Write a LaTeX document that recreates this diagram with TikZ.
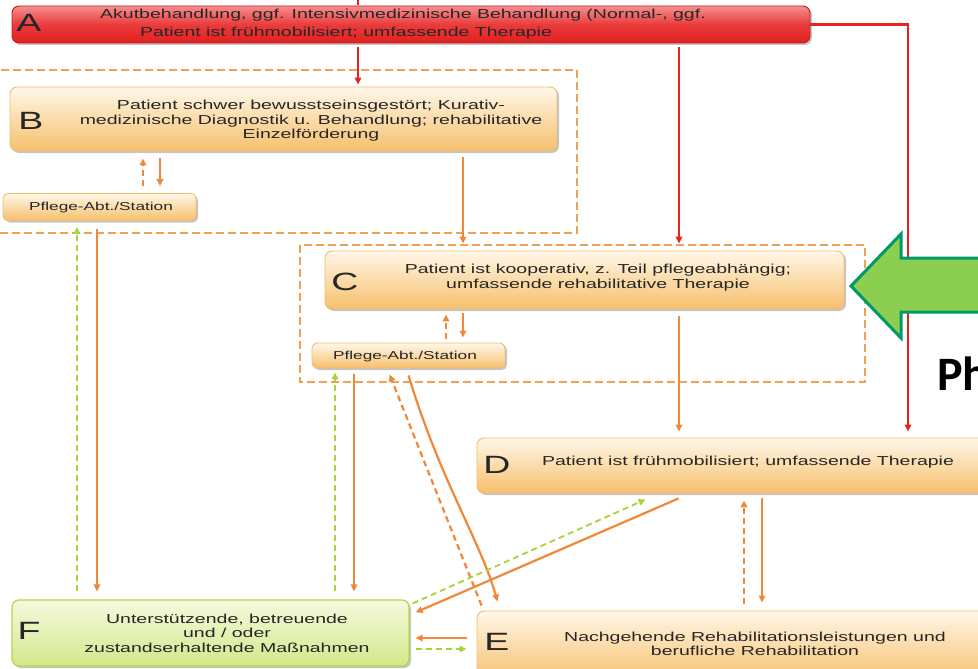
\documentclass[tikz,border=0pt]{standalone}
\usepackage{fontspec}
\setmainfont{Liberation Sans}
\newfontfamily\wf[FakeStretch=1.5]{Liberation Sans}
\newfontfamily\phf{Carlito}
\usetikzlibrary{shadows,arrows.meta}
\definecolor{boxtop}{HTML}{FFF7E8}
\definecolor{boxbot}{HTML}{F6C06C}
\definecolor{boxdraw}{HTML}{F2BE6E}
\definecolor{redtop}{HTML}{F39090}
\definecolor{redmid}{HTML}{EA3B3B}
\definecolor{redbot}{HTML}{E22020}
\definecolor{reddraw}{HTML}{CC1A1A}
\definecolor{ftop}{HTML}{F5F9DE}
\definecolor{fbot}{HTML}{D3E88A}
\definecolor{fdraw}{HTML}{B2D84E}
\definecolor{ocol}{HTML}{F0883A}
\definecolor{gcol}{HTML}{A5D43B}
\definecolor{rcol}{HTML}{E8241F}
\definecolor{bigfill}{HTML}{8CCF50}
\definecolor{bigdraw}{HTML}{00996A}
\definecolor{rectcol}{HTML}{F2A054}
\begin{document}
\begin{tikzpicture}[x=1pt,y=-1pt,
  box/.style={rounded corners=7pt, inner sep=0pt,
    drop shadow={opacity=0.45,shadow xshift=2pt,shadow yshift=-2pt}},
  obox/.style={box, draw=boxdraw, line width=0.9pt, top color=boxtop, bottom color=boxbot},
  rbox/.style={box, draw=reddraw, line width=0.9pt, top color=redtop, bottom color=redbot, middle color=redmid},
  fbox/.style={box, draw=fdraw, line width=1.2pt, top color=ftop, bottom color=fbot},
  txt/.style={align=center, inner sep=0pt, font=\wf\fontsize{13}{14.5}\selectfont, text=black!85},
  ptxt/.style={align=center, inner sep=0pt, font=\wf\fontsize{11.5}{13}\selectfont, text=black!85},
  letter/.style={inner sep=0pt, font=\wf\fontsize{25}{25}\selectfont, text=black!85},
  tip/.style={-{Triangle[length=7pt,width=6.5pt]}},
  oarr/.style={tip, draw=ocol, line width=2.2pt},
  odash/.style={oarr, dash pattern=on 6pt off 4pt},
  garr/.style={tip, draw=gcol, line width=1.8pt, dash pattern=on 6pt off 4pt},
  rarr/.style={tip, draw=rcol, line width=2.6pt},
  dashrect/.style={draw=rectcol, line width=1.4pt, dash pattern=on 8pt off 4pt}
]
\useasboundingbox (0,0) rectangle (978,669);
\clip (0,0) rectangle (978,669);
\fill[white] (0,0) rectangle (978,669);

% dashed groups
\draw[dashrect] (-5,70) rectangle (577,233);
\draw[dashrect] (300,245) rectangle (865,382);

% boxes
\node[rbox, minimum width=798pt, minimum height=37pt] (A) at (411,24.5) {};
\node[obox, minimum width=547pt, minimum height=64pt] (B) at (283.5,119) {};
\node[obox, minimum width=193pt, minimum height=27pt, rounded corners=5pt] (P1) at (99.5,207) {};
\node[obox, minimum width=519pt, minimum height=58pt] (C) at (584.5,280) {};
\node[obox, minimum width=193pt, minimum height=25pt, rounded corners=5pt] (P2) at (408.5,355.5) {};
\node[obox, minimum width=520pt, minimum height=55pt] (D) at (737,465.5) {};
\node[obox, minimum width=520pt, minimum height=70pt] (E) at (737,646) {};
\node[fbox, minimum width=397pt, minimum height=66pt] (F) at (210.5,633) {};

% texts
\node[letter] (lA) at (29,23) {A};
\node[txt] (tA1) at (403,15) {Akutbehandlung, ggf. Intensivmedizinische Behandlung (Normal-, ggf.};
\node[txt] (tA2) at (346,33) {Patient ist frühmobilisiert; umfassende Therapie};
\node[letter] (lB) at (31,121) {B};
\node[txt] (tB) at (311,121) {Patient schwer bewusstseinsgestört; Kurativ-\\medizinische Diagnostik u. Behandlung; rehabilitative\\Einzelförderung};
\node[ptxt] (tP1) at (101,208) {Pflege-Abt./Station};
\node[letter] (lC) at (345,282) {C};
\node[txt] (tC) at (598,277.5) {Patient ist kooperativ, z. Teil pflegeabhängig;\\umfassende rehabilitative Therapie};
\node[ptxt] (tP2) at (405,357) {Pflege-Abt./Station};
\node[letter] (lD) at (497,465) {D};
\node[txt] (tD) at (748,462) {Patient ist frühmobilisiert; umfassende Therapie};
\node[letter] (lE) at (497,642) {E};
\node[txt] (tE) at (755,644) {Nachgehende Rehabilitationsleistungen und\\berufliche Rehabilitation};
\node[letter] (lF) at (29,631) {F};
\node[txt] (tF) at (227,633) {Unterstützende, betreuende\\und / oder\\zustandserhaltende Maßnahmen};

% column / row helpers
\coordinate (xa) at (358,0);
\coordinate (xb) at (679,0);
\coordinate (xc) at (908,0);
\coordinate (xd) at (463,0);
\coordinate (xe) at (143,0);
\coordinate (xf) at (160,0);
\coordinate (xg) at (446,0);
\coordinate (xh) at (77,0);
\coordinate (xi) at (97,0);
\coordinate (xj) at (335,0);
\coordinate (xk) at (354,0);
\coordinate (xl) at (744,0);
\coordinate (xm) at (762,0);
\coordinate (ya) at (0,638);
\coordinate (yb) at (0,649);
\coordinate (topA) at (358,-3);
\coordinate (cornerR) at (908,24.5);

% red connectors
\draw[rcol, line width=2.6pt, shorten >=1pt] (topA) -- (A.north -| xa);
\draw[rarr, shorten <=4pt, shorten >=2pt] (A.south -| xa) -- (B.north -| xa);
\draw[rarr, shorten <=4pt, shorten >=7pt] (A.south -| xb) -- (C.north -| xb);
\draw[rarr, shorten >=6pt] (A.east) -- (cornerR) -- (D.north -| xc);

% orange / green connectors
\draw[oarr, shorten <=6pt, shorten >=7pt] (B.south -| xd) -- (C.north -| xd);
\draw[odash, shorten <=7pt, shorten >=7pt] (P1.north -| xe) -- (B.south -| xe);
\draw[oarr, shorten <=7pt, shorten >=7pt] (B.south -| xf) -- (P1.north -| xf);
\draw[oarr, shorten <=8pt, shorten >=8pt] (P1.south -| xi) -- (F.north -| xi);
\draw[garr, shorten <=8pt, shorten >=6pt] (F.north -| xh) -- (P1.south -| xh);
\draw[odash, shorten <=4pt, shorten >=5pt] (P2.north -| xg) -- (C.south -| xg);
\draw[oarr, shorten <=4pt, shorten >=5pt] (C.south -| xd) -- (P2.north -| xd);
\draw[oarr, shorten <=7pt, shorten >=6pt] (C.south -| xb) -- (D.north -| xb);
\draw[garr, shorten <=8pt, shorten >=4pt] (F.north -| xj) -- (P2.south -| xj);
\draw[oarr, shorten <=6pt, shorten >=8pt] (P2.south -| xk) -- (F.north -| xk);
\draw[odash] ([xshift=5pt,yshift=5pt]E.north west) -- ([xshift=78pt,yshift=-6pt]P2.south west);
\draw[oarr] ([xshift=97pt,yshift=-7pt]P2.south west) .. controls (440,480) and (480,540) .. ([xshift=21pt,yshift=9pt]E.north west);
\draw[oarr] ([xshift=202pt,yshift=-5pt]D.south west) -- ([xshift=6pt,yshift=-13pt]F.north east);
\draw[garr] ([xshift=3pt,yshift=-4pt]F.north east) -- ([xshift=169pt,yshift=-6pt]D.south west);
\draw[odash, shorten <=7pt, shorten >=7pt] (E.north -| xl) -- (D.south -| xl);
\draw[oarr, shorten <=5pt, shorten >=8pt] (D.south -| xm) -- (E.north -| xm);
\draw[oarr, shorten <=10pt, shorten >=6pt] (E.west |- ya) -- (F.east |- ya);
\draw[garr, shorten <=6pt, shorten >=10pt] (F.east |- yb) -- (E.west |- yb);

% big green arrow
\draw[fill=bigfill, draw=bigdraw, line width=3pt, line join=miter]
  (851,286) -- (901,234) -- (901,258) -- (995,258) -- (995,312) -- (901,312) -- (901,338) -- cycle;
\node[anchor=base west, inner sep=0pt, font=\phf\bfseries\fontsize{48}{48}\selectfont] (Ph) at (937,390) {Ph};
\end{tikzpicture}
\end{document}
